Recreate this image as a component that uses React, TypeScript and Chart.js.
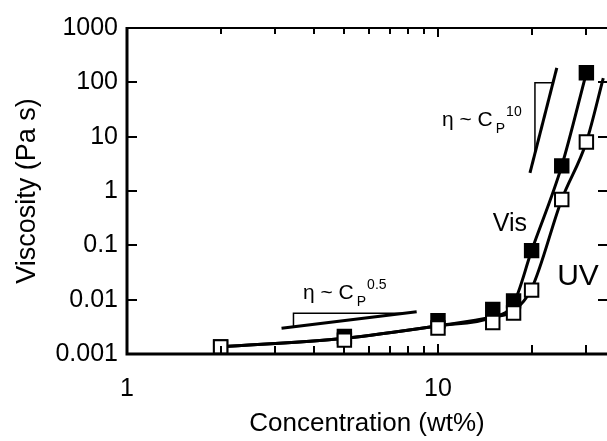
import React, { useEffect, useRef } from "react";
import { Chart, registerables } from "chart.js";

Chart.register(...registerables);

// ---- data ----
const concentration = [2, 5, 10, 15, 17.5, 20, 25, 30];
const visViscosity = [0.00135, 0.0021, 0.0041, 0.0066, 0.0095, 0.08, 2.9, 150];
const uvViscosity = [0.00135, 0.0018, 0.003, 0.0038, 0.0057, 0.015, 0.7, 8];

// fitted curves (traced)
const visFitConc = [2, 5, 10, 15, 17.5, 20, 25, 30];
const visFitVisc = [0.00135, 0.00195, 0.0033, 0.0048, 0.0085, 0.08, 2.9, 150];
const uvFitConc = [2, 5, 10, 15, 17.5, 20, 25, 30, 34];
const uvFitVisc = [0.00135, 0.00195, 0.0033, 0.0048, 0.0062, 0.016, 0.7, 8, 120];

// axes
const xTicks = [1, 10];
const xTickLabels = ["1", "10"];
const xMinorTicks = [2, 3, 4, 5, 6, 7, 8, 9, 20, 30];
const yTicks = [0.001, 0.01, 0.1, 1, 10, 100, 1000];
const yTickLabels = ["0.001", "0.01", "0.1", "1", "10", "100", "1000"];
const xMin = 1;
const xMax = 34.95;
const yMin = 0.001;
const yMax = 1000;

// annotations (data coordinates)
const slopeLowLine = [[3.14, 0.00297], [8.54, 0.006]];
const slopeLowTri = [[3.43, 0.00316], [3.43, 0.00562], [7.75, 0.00562]];
const slopeLowLabel = [3.68, 0.0103];
const slopeLowExp = "0.5";
const slopeHighLine = [[19.76, 2.15], [24.1, 185]];
const slopeHighTri = [[20.5, 4.9], [20.5, 98], [23.4, 98]];
const slopeHighLabel = [10.3, 15.8];
const slopeHighExp = "10";
const visLabelPos = [17.04, 0.248];
const uvLabelPos = [28.2, 0.0262];

const FONT = '"Liberation Sans", Arial, Helvetica, sans-serif';

function pts(xs: number[], ys: number[]) {
  return xs.map((x, i) => ({ x, y: ys[i] }));
}

function drawPowerLabel(ctx: any, x: number, y: number, sup: string) {
  ctx.textAlign = "left";
  ctx.textBaseline = "alphabetic";
  ctx.font = `21px ${FONT}`;
  const base = "\u03b7 ~ C";
  ctx.fillText(base, x, y);
  const w = ctx.measureText(base).width;
  ctx.font = `14px ${FONT}`;
  ctx.fillText("P", x + w + 3, y + 7);
  const pw = ctx.measureText("P").width;
  ctx.fillText(sup, x + w + pw + 4, y - 10);
}

const annotationPlugin = {
  id: "annotations",
  afterDatasetsDraw(chart: any) {
    const ctx = chart.ctx;
    const xs = chart.scales.x;
    const ys = chart.scales.y;
    const area = chart.chartArea;
    const L = area.left;
    const R = area.right;
    const T = area.top;
    const B = area.bottom;
    const P = (p: number[]) => [xs.getPixelForValue(p[0]), ys.getPixelForValue(p[1])];
    const poly = (arr: number[][], lw: number) => {
      ctx.lineWidth = lw;
      ctx.beginPath();
      arr.forEach((p, i) => {
        const [a, b] = P(p);
        if (i === 0) ctx.moveTo(a, b);
        else ctx.lineTo(a, b);
      });
      ctx.stroke();
    };
    ctx.save();
    ctx.setLineDash([]);
    ctx.strokeStyle = "#000";
    ctx.fillStyle = "#000";
    ctx.lineCap = "butt";

    // frame
    ctx.lineWidth = 2;
    ctx.beginPath();
    ctx.moveTo(L, T);
    ctx.lineTo(R, T);
    ctx.stroke();
    ctx.lineWidth = 3;
    ctx.beginPath();
    ctx.moveTo(L, T - 1);
    ctx.lineTo(L, B);
    ctx.lineTo(R, B);
    ctx.stroke();

    // inward ticks
    const addV = (v: number, lb: number, lt: number) => {
      const px = Math.round(xs.getPixelForValue(v));
      ctx.lineWidth = 2;
      ctx.beginPath();
      ctx.moveTo(px, B - 1);
      ctx.lineTo(px, B - 1 - lb);
      ctx.moveTo(px, T);
      ctx.lineTo(px, T + lt);
      ctx.stroke();
    };
    xTicks.forEach((v) => addV(v, 9, 9));
    xMinorTicks.forEach((v) => addV(v, v > 10 ? 8 : 7, v > 10 ? 7 : 6));
    yTicks.forEach((v) => {
      const py = Math.round(ys.getPixelForValue(v));
      ctx.lineWidth = 2;
      ctx.beginPath();
      ctx.moveTo(L, py);
      ctx.lineTo(L + 10, py);
      ctx.moveTo(R, py);
      ctx.lineTo(R - 9, py);
      ctx.stroke();
    });

    poly(slopeLowLine, 3);
    poly(slopeLowTri, 1.5);
    poly(slopeHighLine, 3);
    poly(slopeHighTri, 1.5);
    const l1 = P(slopeLowLabel);
    drawPowerLabel(ctx, l1[0], l1[1], slopeLowExp);
    const l2 = P(slopeHighLabel);
    drawPowerLabel(ctx, l2[0], l2[1], slopeHighExp);
    ctx.textAlign = "center";
    ctx.textBaseline = "middle";
    ctx.font = `25px ${FONT}`;
    const v = P(visLabelPos);
    ctx.fillText("Vis", v[0], v[1]);
    ctx.font = `30px ${FONT}`;
    const u = P(uvLabelPos);
    ctx.fillText("UV", u[0], u[1]);
    ctx.restore();
  },
};

export default function App() {
  const ref = useRef<HTMLCanvasElement | null>(null);
  useEffect(() => {
    if (!ref.current) return;
    document.body.style.overflow = "hidden";
    const lineCommon = {
      showLine: true,
      pointRadius: 0,
      borderColor: "#000",
      borderWidth: 3,
      cubicInterpolationMode: "monotone" as const,
      fill: false,
    };
    const chart = new Chart(ref.current, {
      type: "scatter",
      data: {
        datasets: [
          {
            label: "UV",
            data: pts(concentration, uvViscosity),
            pointStyle: "rect",
            pointRadius: 9.5,
            backgroundColor: "#fff",
            borderColor: "#000",
            borderWidth: 2,
            order: 0,
          },
          {
            label: "Vis",
            data: pts(concentration, visViscosity),
            pointStyle: "rect",
            pointRadius: 9.5,
            backgroundColor: "#000",
            borderColor: "#000",
            borderWidth: 2,
            order: 1,
          },
          { label: "Vis fit", data: pts(visFitConc, visFitVisc), ...lineCommon, order: 2 },
          { label: "UV fit", data: pts(uvFitConc, uvFitVisc), ...lineCommon, order: 3 },
        ] as any,
      },
      options: {
        responsive: false,
        animation: false,
        devicePixelRatio: 1,
        layout: { autoPadding: false, padding: { top: 28, right: 0, left: 0, bottom: 0 } },
        plugins: { legend: { display: false }, tooltip: { enabled: false } },
        scales: {
          x: {
            type: "logarithmic",
            position: "bottom",
            min: xMin,
            max: xMax,
            afterBuildTicks: (s: any) => {
              s.ticks = xTicks.map((v) => ({ value: v }));
            },
            afterFit: (s: any) => {
              s.height = 87;
              s.paddingLeft = 0;
              s.paddingRight = 0;
            },
            grid: { display: false, drawTicks: false },
            border: { display: false },
            ticks: {
              callback: (_v: any, i: number) => xTickLabels[i],
              padding: 20,
              maxRotation: 0,
              autoSkip: false,
              color: "#000",
              font: { family: FONT, size: 25 },
            },
            title: {
              display: true,
              text: "Concentration (wt%)",
              color: "#000",
              font: { family: FONT, size: 26 },
              padding: { top: 0, bottom: 2 },
            },
          },
          y: {
            type: "logarithmic",
            position: "left",
            min: yMin,
            max: yMax,
            afterBuildTicks: (s: any) => {
              s.ticks = yTicks.map((v) => ({ value: v }));
            },
            afterFit: (s: any) => {
              s.width = 127;
              s.paddingTop = 0;
              s.paddingBottom = 0;
            },
            grid: { display: false, drawTicks: false },
            border: { display: false },
            ticks: {
              callback: (_v: any, i: number) => yTickLabels[i],
              padding: 9,
              autoSkip: false,
              color: "#000",
              font: { family: FONT, size: 25 },
            },
            title: {
              display: true,
              text: "Viscosity (Pa s)",
              color: "#000",
              font: { family: FONT, size: 27 },
              padding: { top: 11, bottom: 0 },
            },
          },
        },
      } as any,
      plugins: [annotationPlugin],
    });
    return () => chart.destroy();
  }, []);
  return (
    <div
      style={{
        position: "fixed",
        left: 0,
        top: 0,
        width: 607,
        height: 441,
        overflow: "hidden",
        background: "#fff",
      }}
    >
      <canvas ref={ref} width={607} height={441} style={{ display: "block", width: 607, height: 441 }} />
    </div>
  );
}
